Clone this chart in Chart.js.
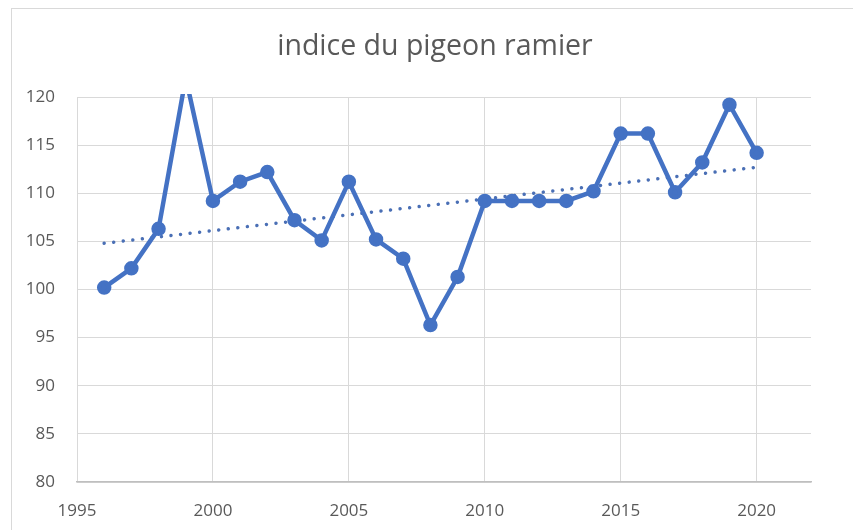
<!DOCTYPE html>
<html>
<head>
<meta charset="utf-8">
<script src="https://cdn.jsdelivr.net/npm/chart.js@4.4.1/dist/chart.umd.min.js"></script>
<style>
  html, body { margin: 0; padding: 0; background: #fff; }
  #wrap { position: relative; width: 853px; height: 530px; overflow: hidden; }
  #frame { position: absolute; left: 11px; top: 8px; width: 900px; height: 600px; border: 1px solid #d9d9d9; box-sizing: border-box; }
  #c { position: absolute; left: 0; top: 0; }
</style>
</head>
<body>
<div id="wrap">
  <div id="frame"></div>
  <canvas id="c" width="853" height="530"></canvas>
</div>
<script>
const years = [1996,1997,1998,1999,2000,2001,2002,2003,2004,2005,2006,2007,2008,2009,2010,2011,2012,2013,2014,2015,2016,2017,2018,2019,2020];
const indice = [100.2,102.2,106.3,122,109.2,111.2,112.2,107.2,105.1,111.2,105.2,103.2,96.3,101.3,109.2,109.2,109.2,109.2,110.2,116.2,116.2,110.1,113.2,119.2,114.2];
const trendYears = [1996, 2020];
const trendValues = [104.8, 112.7];
const titleText = 'indice du pigeon ramier';

const lineColor = '#4472C4';
const trendColor = '#4a6fb5';
const textColor = '#595959';
const fontFam = 'Open Sans, Noto Sans, sans-serif';

new Chart(document.getElementById('c'), {
  type: 'line',
  data: {
    datasets: [
      {
        label: 'indice',
        data: years.map((y, i) => ({ x: y, y: indice[i] })),
        borderColor: lineColor,
        backgroundColor: lineColor,
        borderWidth: 4.5,
        pointRadius: 5,
        pointHoverRadius: 5,
        pointBackgroundColor: lineColor,
        pointBorderColor: lineColor,
        tension: 0,
        clip: 3,
        order: 1
      },
      {
        label: 'tendance',
        data: trendYears.map((y, i) => ({ x: y, y: trendValues[i] })),
        borderColor: trendColor,
        borderWidth: 3.5,
        borderDash: [0.01, 9.6],
        borderCapStyle: 'round',
        pointRadius: 0,
        tension: 0,
        order: 2
      }
    ]
  },
  options: {
    responsive: false,
    animation: false,
    events: [],
    layout: { padding: { left: 17, right: 0, top: 0, bottom: 0 } },
    plugins: {
      legend: { display: false },
      tooltip: { enabled: false },
      title: {
        display: true,
        text: titleText,
        color: textColor,
        font: { family: fontFam, size: 28.5, weight: 'normal', lineHeight: 1.2 },
        padding: { top: 30, bottom: 32.8 }
      }
    },
    scales: {
      x: {
        type: 'linear',
        min: 1995,
        max: 2022,
        afterFit: (s) => { s.height = 48; },
        ticks: {
          stepSize: 5,
          includeBounds: false,
          padding: 19,
          color: textColor,
          font: { family: fontFam, size: 17 },
          callback: (v) => String(v)
        },
        grid: { color: '#d9d9d9', lineWidth: 1, drawTicks: false },
        border: { display: true, color: '#bfbfbf', width: 1.5 }
      },
      y: {
        min: 80,
        max: 120,
        afterFit: (s) => { s.width = 60; },
        ticks: {
          stepSize: 5,
          padding: 22,
          color: textColor,
          font: { family: fontFam, size: 17 }
        },
        grid: { color: '#d9d9d9', lineWidth: 1, drawTicks: false },
        border: { display: false }
      },
      yr: {
        position: 'right',
        min: 80,
        max: 120,
        afterFit: (s) => { s.width = 42; },
        ticks: { display: false },
        grid: { display: false, drawTicks: false },
        border: { display: false }
      }
    }
  }
});
</script>
</body>
</html>
